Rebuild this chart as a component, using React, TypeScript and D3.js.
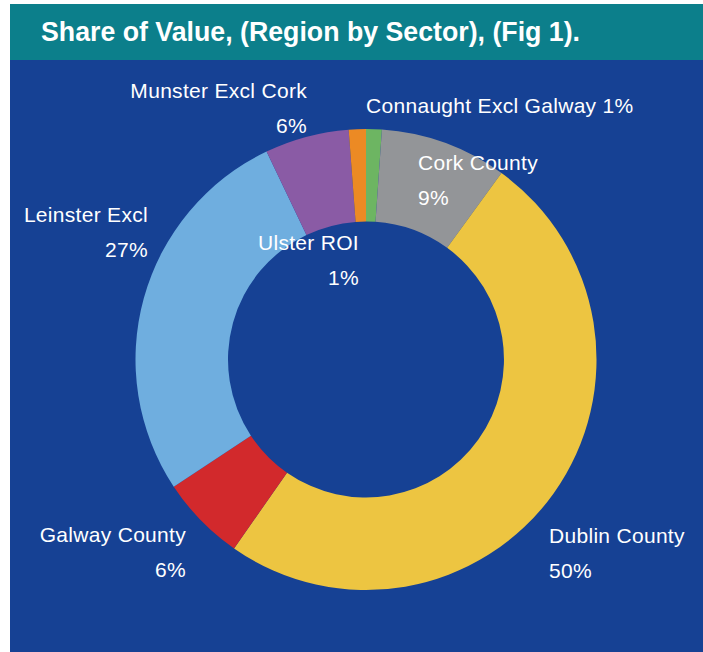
import React from 'react';
import * as d3 from 'd3';

const width = 703;
const height = 652;

// Share of value by region, clockwise from 12 o'clock
const regions = [
  'Connaught Excl Galway',
  'Cork County',
  'Dublin County',
  'Galway County',
  'Leinster Excl',
  'Munster Excl Cork',
  'Ulster ROI',
];
const shares = [1.1, 8.9, 49.7, 6.0, 27.2, 5.9, 1.2];
const shareLabels = ['1%', '9%', '50%', '6%', '27%', '6%', '1%'];
const sliceColors = ['#6db562', '#939598', '#edc541', '#d2292c', '#6faedf', '#8a5ba5', '#ec8a24'];

const title = 'Share of Value, (Region by Sector), (Fig 1).';

// where excel dropped each data label (anchor x, first baseline), in page coords
const labelLayout = {
  'Connaught Excl Galway': { x: 366, y: 113, anchor: 'start', oneLine: true },
  'Cork County': { x: 418, y: 170, anchor: 'start' },
  'Dublin County': { x: 549, y: 543, anchor: 'start' },
  'Galway County': { x: 186, y: 542, anchor: 'end' },
  'Leinster Excl': { x: 148, y: 222, anchor: 'end' },
  'Munster Excl Cork': { x: 307, y: 98, anchor: 'end' },
  'Ulster ROI': { x: 359, y: 250, anchor: 'end' },
};

const cx = 366;
const cy = 359.5;
const outerR = 230.5;
const innerR = 138;
const lineGap = 35;

const App = () => {
  const data = regions.map((name, i) => ({ name, value: shares[i], label: shareLabels[i] }));

  const color = d3.scaleOrdinal<string, string>().domain(regions).range(sliceColors);

  const pie = d3
    .pie<any>()
    .sort(null)
    .value(d => d.value)
    .startAngle(0)
    .endAngle(2 * Math.PI);

  const arc = d3.arc<any>().innerRadius(innerR).outerRadius(outerR);

  const arcs = pie(data);

  const labelFont = {
    fontFamily: '"Liberation Sans", Arial, Helvetica, sans-serif',
    fontSize: 21,
    letterSpacing: 0.3,
    fill: '#ffffff',
  };

  return (
    <svg
      width={width}
      height={height}
      style={{ position: 'absolute', left: 0, top: 0, background: '#ffffff' }}
    >
      <rect x={10} y={4} width={width - 10} height={56} fill="#0c7f8b" />
      <rect x={10} y={60} width={width - 10} height={height - 60} fill="#164194" />
      <text
        x={41}
        y={41}
        fill="#ffffff"
        fontFamily='"Liberation Sans Narrow", "Liberation Sans", Arial, sans-serif'
        fontWeight="bold"
        fontSize={27}
        textLength={539}
        lengthAdjust="spacingAndGlyphs"
      >
        {title}
      </text>

      <g transform={`translate(${cx}, ${cy})`}>
        {arcs.map(a => (
          <path key={a.data.name} d={arc(a) || ''} fill={color(a.data.name)} />
        ))}
      </g>

      {data.map(d => {
        const l = labelLayout[d.name];
        if (l.oneLine) {
          return (
            <text key={d.name} x={l.x} y={l.y} textAnchor={l.anchor} {...labelFont}>
              {`${d.name} ${d.label}`}
            </text>
          );
        }
        return (
          <text key={d.name} textAnchor={l.anchor} {...labelFont}>
            <tspan x={l.x} y={l.y}>{d.name}</tspan>
            <tspan x={l.x} y={l.y + lineGap}>{d.label}</tspan>
          </text>
        );
      })}
    </svg>
  );
};

export default App;
